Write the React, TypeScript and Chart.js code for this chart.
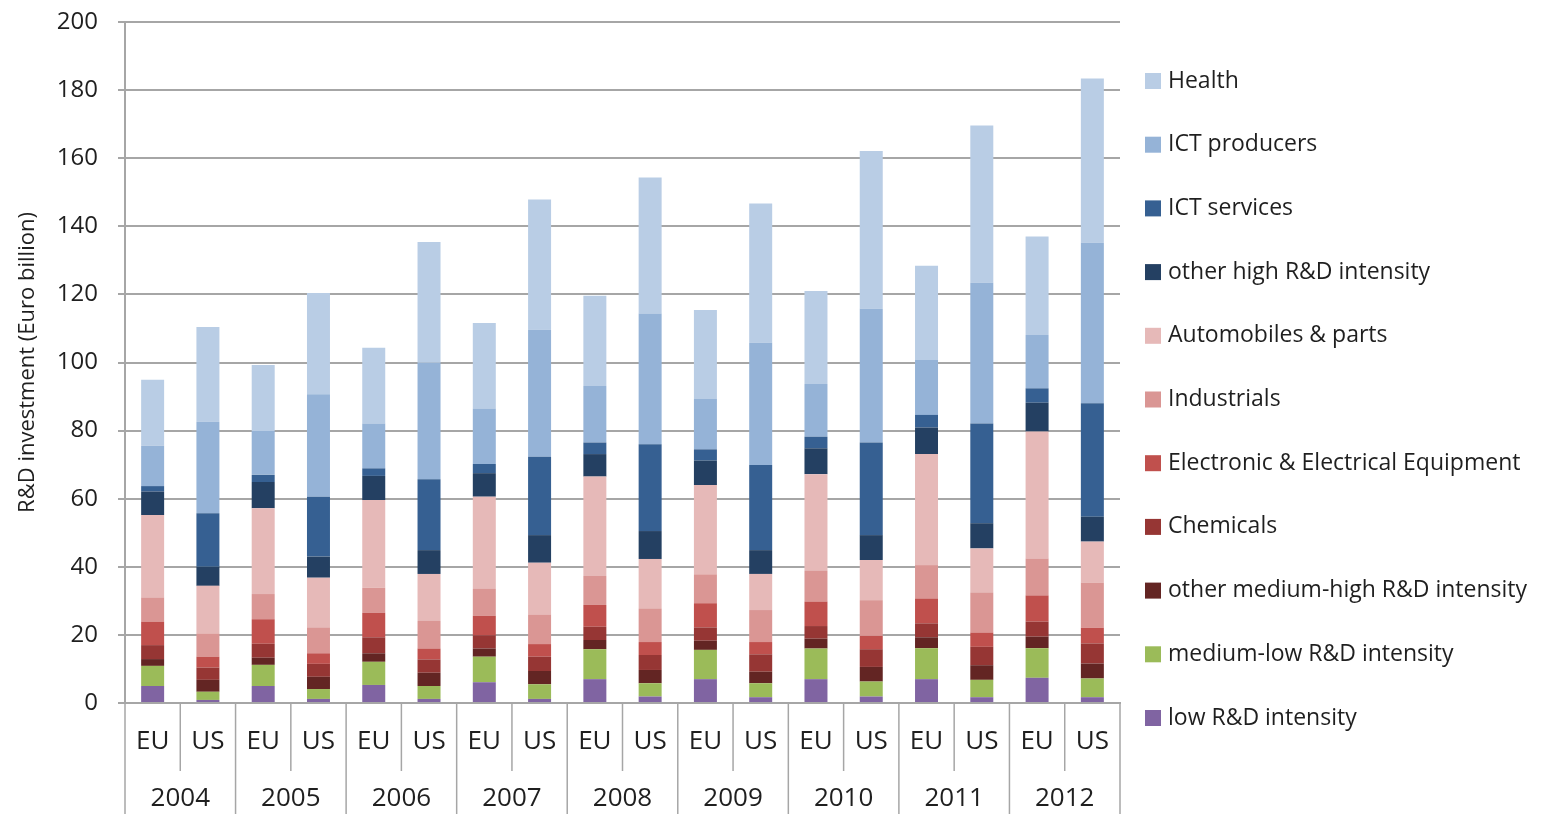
import React, { useEffect, useRef } from 'react';
import { Chart, registerables } from 'chart.js';

Chart.register(...registerables);

const categories = ['EU', 'US', 'EU', 'US', 'EU', 'US', 'EU', 'US', 'EU', 'US', 'EU', 'US', 'EU', 'US', 'EU', 'US', 'EU', 'US'];
const years = ['2004', '2005', '2006', '2007', '2008', '2009', '2010', '2011', '2012'];
const yTicks = [0, 20, 40, 60, 80, 100, 120, 140, 160, 180, 200];

// segment values (Euro billion), bars ordered 2004 EU, 2004 US, ... 2012 US
const lowRD = [5.0, 0.9, 5.0, 1.2, 5.3, 1.2, 6.1, 1.2, 7.0, 1.9, 7.0, 1.7, 7.0, 1.9, 7.0, 1.7, 7.4, 1.7];
const mediumLowRD = [5.9, 2.4, 6.2, 2.9, 6.8, 3.8, 7.5, 4.3, 8.8, 3.9, 8.6, 4.1, 9.0, 4.4, 9.1, 5.1, 8.7, 5.5];
const otherMediumHighRD = [2.0, 3.5, 2.1, 3.6, 2.5, 3.9, 2.4, 3.9, 2.7, 3.9, 2.7, 3.4, 2.9, 4.3, 3.2, 4.3, 3.4, 4.4];
const chemicals = [4.1, 3.6, 4.1, 3.8, 4.7, 3.9, 3.9, 4.2, 3.9, 4.4, 3.9, 5.1, 3.7, 5.2, 4.1, 5.4, 4.4, 5.9];
const electronic = [6.9, 3.2, 7.2, 3.1, 7.2, 3.2, 5.7, 3.7, 6.4, 3.8, 7.1, 3.6, 7.2, 3.9, 7.3, 4.2, 7.7, 4.6];
const industrials = [7.1, 6.7, 7.4, 7.6, 7.4, 8.1, 7.9, 8.7, 8.5, 9.9, 8.5, 9.4, 9.0, 10.5, 9.8, 11.8, 10.8, 13.2];
const automobiles = [24.2, 14.1, 25.2, 14.6, 25.7, 13.8, 27.1, 15.2, 29.2, 14.5, 26.2, 10.6, 28.4, 11.8, 32.6, 12.9, 37.3, 12.1];
const otherHighRD = [6.9, 5.6, 7.7, 6.2, 7.1, 7.0, 6.9, 8.1, 6.6, 8.2, 7.2, 7.0, 7.6, 7.3, 7.8, 7.4, 8.5, 7.3];
const ictServices = [1.6, 15.7, 2.1, 17.6, 2.2, 20.8, 2.7, 23.0, 3.4, 25.5, 3.3, 25.0, 3.4, 27.2, 3.7, 29.3, 4.2, 33.3];
const ictProducers = [11.9, 26.9, 12.9, 30.1, 13.2, 34.2, 16.3, 37.3, 16.6, 38.4, 14.8, 35.9, 15.5, 39.3, 16.1, 41.3, 15.7, 47.2];
const health = [19.3, 27.8, 19.4, 29.7, 22.2, 35.5, 25.1, 38.3, 26.5, 39.9, 26.1, 40.9, 27.3, 46.3, 27.7, 46.2, 28.9, 48.2];

const seriesLabels = [
  'low R&D intensity',
  'medium-low R&D intensity',
  'other medium-high R&D intensity',
  'Chemicals',
  'Electronic & Electrical Equipment',
  'Industrials',
  'Automobiles & parts',
  'other high R&D intensity',
  'ICT services',
  'ICT producers',
  'Health',
];
const seriesValues = [lowRD, mediumLowRD, otherMediumHighRD, chemicals, electronic, industrials, automobiles, otherHighRD, ictServices, ictProducers, health];
const seriesColors = ['#8064A2', '#9BBB59', '#632523', '#963634', '#C0504D', '#DA9694', '#E6B9B8', '#244062', '#366092', '#95B3D7', '#B9CDE5'];

const FONT = '"Open Sans", "DejaVu Sans", sans-serif';
const TEXT = '#1f1f1f';
const GRID = '#a6a6a6';

const decorPlugin = {
  id: 'decor',
  afterDraw(chart: any) {
    const ctx = chart.ctx;
    const xs = chart.scales.x;
    const area = chart.chartArea;
    const n = categories.length;
    const step = xs.getPixelForValue(1) - xs.getPixelForValue(0);
    ctx.save();
    ctx.strokeStyle = GRID;
    ctx.lineWidth = 1.5;
    for (let i = 0; i <= n; i++) {
      const px = i === n ? xs.getPixelForValue(n - 1) + step / 2 : xs.getPixelForValue(i) - step / 2;
      const yearEdge = i % 2 === 0;
      ctx.beginPath();
      ctx.moveTo(px, area.bottom);
      ctx.lineTo(px, yearEdge ? chart.height : area.bottom + 68);
      ctx.stroke();
    }
    ctx.font = `26px ${FONT}`;
    ctx.fillStyle = TEXT;
    ctx.textAlign = 'center';
    ctx.textBaseline = 'middle';
    years.forEach((yr, j) => {
      const cx = (xs.getPixelForValue(2 * j) + xs.getPixelForValue(2 * j + 1)) / 2;
      ctx.fillText(yr, cx, area.bottom + 96);
    });
    // legend
    ctx.font = `23px ${FONT}`;
    ctx.textAlign = 'left';
    const ds = chart.data.datasets;
    for (let k = 0; k < ds.length; k++) {
      const d = ds[ds.length - 1 - k];
      const cy = area.top + 59 + k * 63.7;
      ctx.fillStyle = d.backgroundColor;
      ctx.fillRect(area.right + 25, cy - 8, 16, 16);
      ctx.fillStyle = TEXT;
      ctx.fillText(d.label, area.right + 48, cy);
    }
    ctx.restore();
  },
};

export default function App() {
  const canvasRef = useRef<HTMLCanvasElement | null>(null);

  useEffect(() => {
    document.body.style.margin = '0';
    const canvas = canvasRef.current;
    if (!canvas) return;
    const chart = new Chart(canvas, {
      type: 'bar',
      data: {
        labels: categories,
        datasets: seriesLabels.map((label, i) => ({
          label,
          data: seriesValues[i],
          backgroundColor: seriesColors[i],
          borderWidth: 0,
          barPercentage: 0.416,
          categoryPercentage: 1,
        })),
      },
      options: {
        animation: false,
        responsive: true,
        maintainAspectRatio: false,
        layout: { padding: { left: 0, right: 427, top: 22, bottom: 0 } },
        plugins: {
          legend: { display: false },
          tooltip: { enabled: false },
        },
        scales: {
          x: {
            stacked: true,
            grid: { display: false, drawTicks: false },
            border: { display: true, color: GRID, width: 2 },
            ticks: {
              autoSkip: false,
              maxRotation: 0,
              padding: 23,
              color: TEXT,
              font: { family: FONT, size: 26 },
            },
            afterFit: (scale: any) => {
              scale.height = 111;
              scale.paddingLeft = 0;
              scale.paddingRight = 0;
            },
          },
          y: {
            stacked: true,
            min: 0,
            max: 200,
            afterBuildTicks: (scale: any) => {
              scale.ticks = yTicks.map((v) => ({ value: v }));
            },
            grid: { color: GRID, lineWidth: 2, tickLength: 7, drawTicks: true },
            border: { display: true, color: GRID, width: 2 },
            ticks: {
              padding: 20,
              color: TEXT,
              font: { family: FONT, size: 24 },
            },
            title: {
              display: true,
              text: 'R&D investment (Euro billion)',
              color: TEXT,
              font: { family: FONT, size: 22 },
              padding: { top: 15, bottom: 0 },
            },
            afterFit: (scale: any) => {
              scale.width = 125;
              scale.paddingTop = 0;
              scale.paddingBottom = 0;
            },
          },
        },
      },
      plugins: [decorPlugin],
    });
    return () => chart.destroy();
  }, []);

  return (
    <div style={{ width: '1547px', height: '814px', position: 'relative' }}>
      <canvas ref={canvasRef} />
    </div>
  );
}
